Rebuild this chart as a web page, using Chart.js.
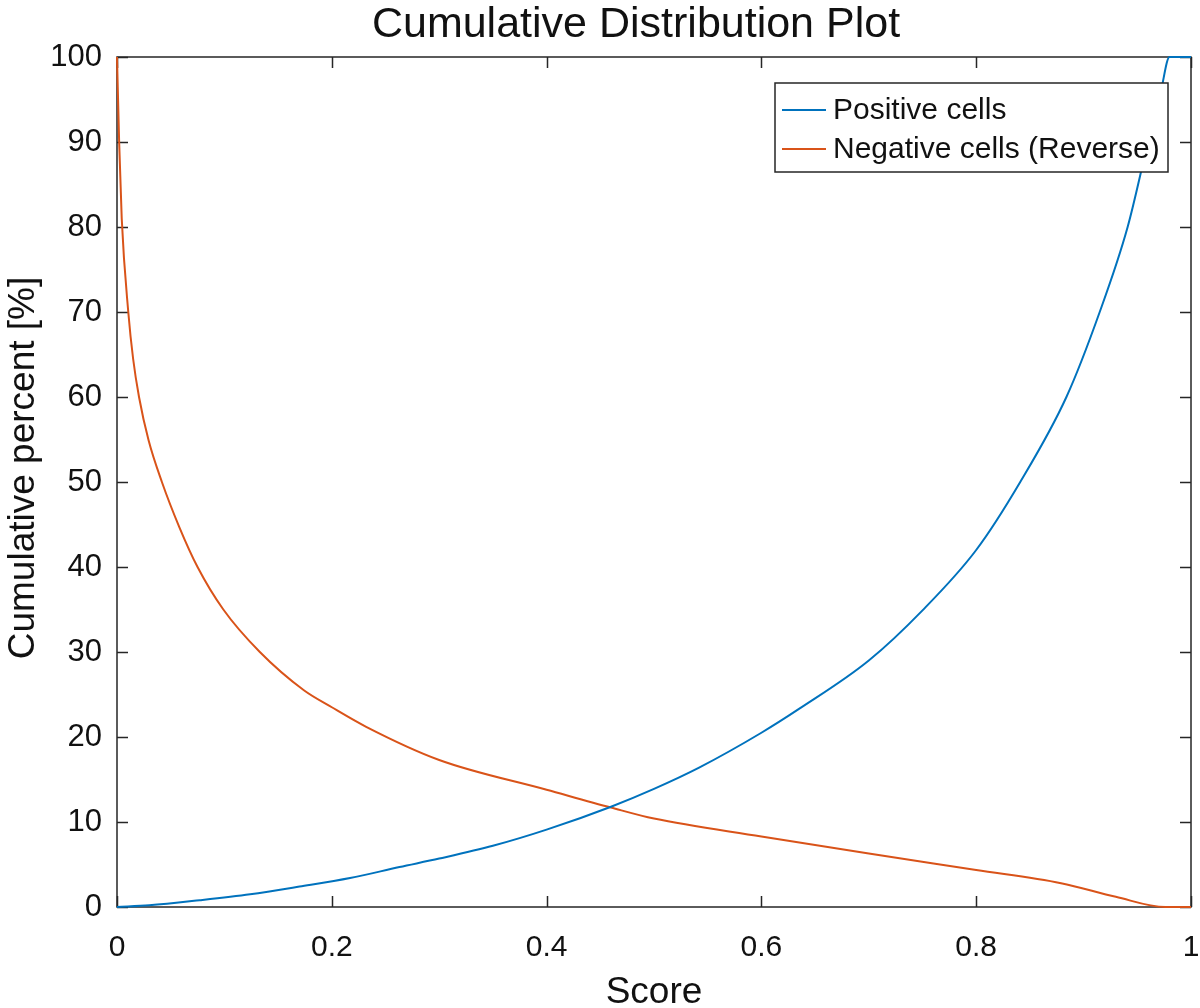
<!DOCTYPE html>
<html>
<head>
<meta charset="utf-8">
<script src="https://cdn.jsdelivr.net/npm/chart.js@4/dist/chart.umd.min.js"></script>
<style>
  html, body { margin: 0; padding: 0; background: #fff; }
  #plot { display: block; }
</style>
</head>
<body>
<canvas id="plot" width="1200" height="1008"></canvas>
<script>
const FONT = '"Liberation Sans", Arial, Helvetica, sans-serif';
const INK = "#111";

// series
const posScore = [0, 0.03, 0.077, 0.124, 0.17, 0.217, 0.263, 0.3, 0.35, 0.4, 0.46, 0.5, 0.542, 0.6, 0.635, 0.7, 0.75, 0.8, 0.841, 0.884, 0.915, 0.941, 0.96, 0.972, 0.98, 1.0];
const posPercent = [0, 0.2, 0.8, 1.5, 2.4, 3.4, 4.7, 5.7, 7.2, 9.1, 11.8, 13.9, 16.4, 20.5, 23.3, 29, 34.9, 42, 50, 60, 70, 80, 90, 96, 100, 100];

const negScore = [0, 0.002, 0.0044, 0.0105, 0.015, 0.0205, 0.0294, 0.0418, 0.058, 0.075, 0.099, 0.133, 0.174, 0.2, 0.232, 0.3, 0.4, 0.46, 0.5, 0.6, 0.7, 0.8, 0.879, 0.93, 0.976, 1.0];
const negPercent = [100, 90, 81, 70, 64.5, 60, 54.9, 50, 44.7, 40, 35, 30, 25.5, 23.5, 21.2, 17.3, 13.8, 11.7, 10.4, 8.3, 6.3, 4.35, 2.8, 1.2, 0, 0];

const seriesNames = ["Positive cells", "Negative cells (Reverse)"];
const seriesColors = ["#0072BD", "#D95319"];

const xTicks = [0, 0.2, 0.4, 0.6, 0.8, 1];
const xTickLabels = ["0", "0.2", "0.4", "0.6", "0.8", "1"];
const yTicks = [0, 10, 20, 30, 40, 50, 60, 70, 80, 90, 100];
const yTickLabels = ["0", "10", "20", "30", "40", "50", "60", "70", "80", "90", "100"];

const titleText = "Cumulative Distribution Plot";
const xTitle = "Score";
const yTitle = "Cumulative percent [%]";

function toPoints(xs, ys) {
  return xs.map((x, i) => ({ x, y: ys[i] }));
}

// matlab style box with inward ticks on all four sides
const framePlugin = {
  id: "frame",
  beforeDatasetsDraw(chart) {
    const { ctx, chartArea: a, scales } = chart;
    const len = 11;
    ctx.save();
    ctx.strokeStyle = "#262626";
    ctx.lineWidth = 1.5;
    ctx.strokeRect(a.left, a.top, a.right - a.left, a.bottom - a.top);
    ctx.beginPath();
    xTicks.forEach((v) => {
      const px = Math.round(scales.x.getPixelForValue(v)) + 0.5;
      ctx.moveTo(px, a.bottom);
      ctx.lineTo(px, a.bottom - len);
      ctx.moveTo(px, a.top);
      ctx.lineTo(px, a.top + len);
    });
    yTicks.forEach((v) => {
      const py = Math.round(scales.y.getPixelForValue(v)) + 0.5;
      ctx.moveTo(a.left, py);
      ctx.lineTo(a.left + len, py);
      ctx.moveTo(a.right, py);
      ctx.lineTo(a.right - len, py);
    });
    ctx.stroke();
    ctx.restore();
  },
};

// title and axis labels, placed where the reference has them
const labelsPlugin = {
  id: "labels",
  afterDraw(chart) {
    const { ctx, chartArea: a } = chart;
    ctx.save();
    ctx.fillStyle = INK;
    ctx.textAlign = "center";
    ctx.textBaseline = "alphabetic";
    ctx.font = `43px ${FONT}`;
    ctx.fillText(titleText, 636, 37);
    ctx.font = `37px ${FONT}`;
    ctx.fillText(xTitle, (a.left + a.right) / 2, 1003);
    ctx.translate(34, 468);
    ctx.rotate(-Math.PI / 2);
    ctx.font = `37px ${FONT}`;
    ctx.fillText(yTitle, 0, 0);
    ctx.restore();
  },
};

const legendPlugin = {
  id: "boxLegend",
  afterDraw(chart) {
    const { ctx } = chart;
    const box = { left: 775, top: 83, right: 1168, bottom: 172 };
    const rows = [110, 149];
    ctx.save();
    ctx.fillStyle = "#fff";
    ctx.fillRect(box.left, box.top, box.right - box.left, box.bottom - box.top);
    ctx.strokeStyle = "#262626";
    ctx.lineWidth = 1.5;
    ctx.strokeRect(box.left, box.top, box.right - box.left, box.bottom - box.top);
    ctx.font = `30px ${FONT}`;
    ctx.textBaseline = "middle";
    ctx.textAlign = "left";
    chart.data.datasets.forEach((ds, i) => {
      const y = rows[i];
      ctx.strokeStyle = ds.borderColor;
      ctx.lineWidth = 2;
      ctx.beginPath();
      ctx.moveTo(782, y);
      ctx.lineTo(826, y);
      ctx.stroke();
      ctx.fillStyle = INK;
      ctx.fillText(ds.label, 833, y + 1);
    });
    ctx.restore();
  },
};

const datasets = [
  toPoints(posScore, posPercent),
  toPoints(negScore, negPercent),
].map((data, i) => ({
  label: seriesNames[i],
  data,
  borderColor: seriesColors[i],
  backgroundColor: seriesColors[i],
  borderWidth: 2,
  pointRadius: 0,
  cubicInterpolationMode: "monotone",
  clip: 3,
}));

new Chart(document.getElementById("plot"), {
  type: "line",
  data: { datasets },
  options: {
    responsive: false,
    animation: false,
    devicePixelRatio: 1,
    layout: { padding: { left: 0, right: 9, top: 57, bottom: 0 } },
    plugins: {
      legend: { display: false },
      tooltip: { enabled: false },
      title: { display: false },
    },
    scales: {
      x: {
        type: "linear",
        min: 0,
        max: 1,
        grid: { display: false },
        border: { display: false },
        afterBuildTicks: (scale) => {
          scale.ticks = xTicks.map((value) => ({ value }));
        },
        afterFit: (scale) => {
          scale.height = 101;
          scale.paddingLeft = 0;
          scale.paddingRight = 0;
        },
        ticks: {
          color: INK,
          padding: 15,
          maxRotation: 0,
          font: { family: FONT, size: 30 },
          callback: (value) => xTickLabels[xTicks.indexOf(value)],
        },
      },
      y: {
        type: "linear",
        min: 0,
        max: 100,
        grid: { display: false },
        border: { display: false },
        afterBuildTicks: (scale) => {
          scale.ticks = yTicks.map((value) => ({ value }));
        },
        afterFit: (scale) => {
          scale.width = 117;
          scale.paddingTop = 0;
          scale.paddingBottom = 0;
        },
        ticks: {
          color: INK,
          padding: 7,
          font: { family: FONT, size: 31 },
          callback: (value) => yTickLabels[yTicks.indexOf(value)],
        },
      },
    },
  },
  plugins: [framePlugin, labelsPlugin, legendPlugin],
});
</script>
</body>
</html>
